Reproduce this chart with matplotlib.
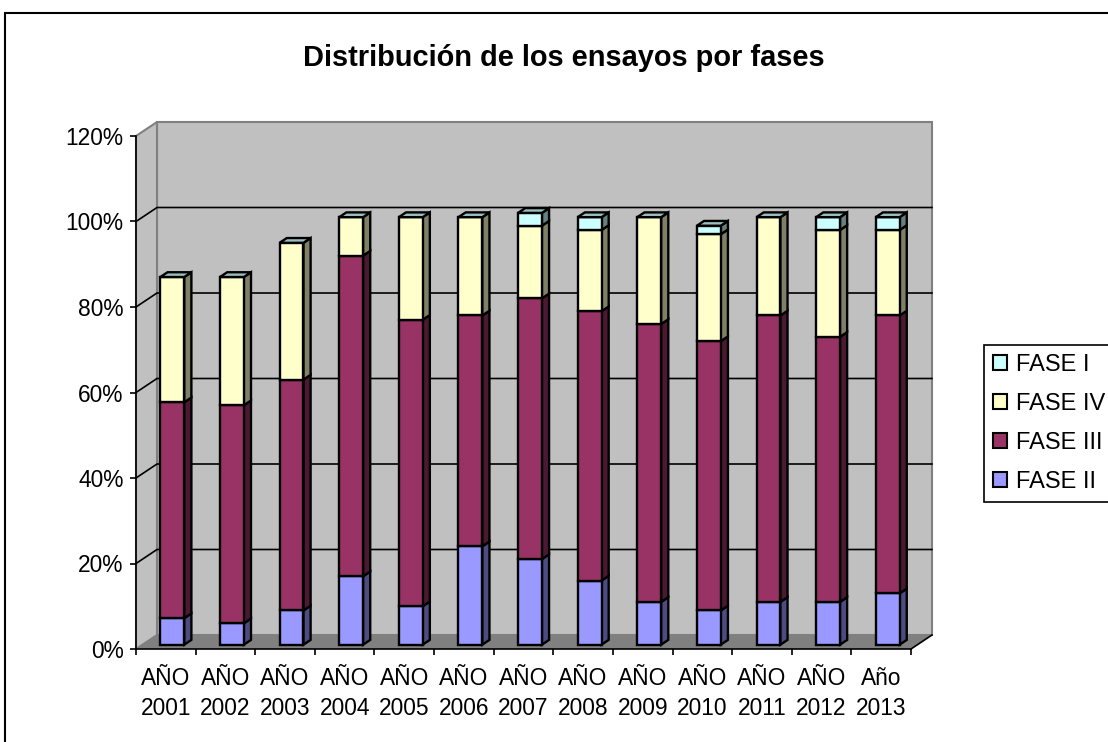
import matplotlib
matplotlib.use("Agg")
import matplotlib.pyplot as plt
from matplotlib.patches import Polygon, Rectangle, Patch

plt.rcParams['font.family'] = ['Liberation Sans', 'DejaVu Sans']

W, H = 1108, 742

years = ["AÑO\n2001", "AÑO\n2002", "AÑO\n2003", "AÑO\n2004", "AÑO\n2005", "AÑO\n2006", "AÑO\n2007",
         "AÑO\n2008", "AÑO\n2009", "AÑO\n2010", "AÑO\n2011", "AÑO\n2012", "Año\n2013"]
fase_2 = [6.2, 5, 8, 16, 9, 23, 20, 15, 10, 8, 10, 10, 12]
fase_3 = [50.5, 51, 54, 75, 67, 54, 61, 63, 65, 63, 67, 62, 65]
fase_4 = [29.3, 30, 32, 9, 24, 23, 17, 19, 25, 25, 23, 25, 20]
fase_1 = [0, 0, 0, 0, 0, 0, 3, 3, 0, 2, 0, 3, 3]
y_ticks = [0, 20, 40, 60, 80, 100, 120]

# series from the bottom up: values, name, face, side
series = [
    (fase_2, "FASE II", "#9999FF", "#4C4C80"),
    (fase_3, "FASE III", "#993366", "#4C1933"),
    (fase_4, "FASE IV", "#FFFFCC", "#808066"),
    (fase_1, "FASE I", "#CCFFFF", "#668080"),
]
TOP_COLOR = "#99BFBF"
EDGE = dict(edgecolor="black", linewidth=1.7, joinstyle="miter")

fig = plt.figure(figsize=(W / 100, H / 100), dpi=100)
fig.patches.append(Rectangle((5 / W, 1 - 13 / H - 800 / H), 1200 / W, 800 / H, transform=fig.transFigure,
                             facecolor="white", edgecolor="black", linewidth=1.5, zorder=-1))

# axes = front plane of the fake 3d box
ax = fig.add_axes([136 / W, 1 - 649 / H, (911 - 136) / W, (649 - 136) / H])
ax.set_xlim(0, 13)
ax.set_ylim(0, 120)
ax.patch.set_visible(False)

# depth of the box in data units
DX = 21 / (775 / 13)
DY = 14 / (513 / 120)


def pt(x, y, d=0.0):
    return (x + d * DX, y + d * DY)


def poly(points, **kw):
    ax.add_patch(Polygon(points, closed=True, clip_on=False, **kw))


# walls and floor
poly([pt(0, 0, 1), pt(13, 0, 1), pt(13, 120, 1), pt(0, 120, 1)], facecolor="#C0C0C0", edgecolor="#808080", linewidth=1.5, zorder=1)
poly([pt(0, 0), pt(0, 0, 1), pt(0, 120, 1), pt(0, 120)], facecolor="#C0C0C0", edgecolor="#808080", linewidth=1.5, zorder=1)
poly([pt(0, 0), pt(13, 0), pt(13, 0, 1), pt(0, 0, 1)], facecolor="#808080", edgecolor="none", zorder=1)
ax.plot(*zip(pt(13, 0), pt(13, 0, 1)), color="black", lw=1.2, clip_on=False, zorder=2)

# gridlines on back and side wall
for v in y_ticks[1:-1]:
    ax.plot(*zip(pt(0, v), pt(0, v, 1), pt(13, v, 1)), color="black", lw=1.2, clip_on=False, zorder=2)

# bars
BAR_W = 0.40
D0, D1 = 0.31, 0.65
for i in range(len(years)):
    cx = i + 0.5
    x0, x1 = cx - BAR_W / 2, cx + BAR_W / 2
    base = 0
    for vals, name, face, side in series:
        v = vals[i]
        if v == 0:
            continue
        top = base + v
        poly([pt(x1, base, D0), pt(x1, base, D1), pt(x1, top, D1), pt(x1, top, D0)], facecolor=side, zorder=3, **EDGE)
        poly([pt(x0, base, D0), pt(x1, base, D0), pt(x1, top, D0), pt(x0, top, D0)], facecolor=face, zorder=4, **EDGE)
        base = top
    poly([pt(x0, base, D0), pt(x1, base, D0), pt(x1, base, D1), pt(x0, base, D1)], facecolor=TOP_COLOR, zorder=4, **EDGE)

# axes
for s in ("top", "right"):
    ax.spines[s].set_visible(False)
for s in ("left", "bottom"):
    ax.spines[s].set_linewidth(1.2)
    ax.spines[s].set_zorder(5)
ax.set_yticks(y_ticks)
ax.set_yticklabels([f"{v}%" for v in y_ticks], fontsize=16.4)
ax.set_xticks(range(14))
ax.set_xticklabels([])
ax.set_xticks([i + 0.5 for i in range(13)], minor=True)
ax.set_xticklabels(years, minor=True, fontsize=16.4, linespacing=1.36)
ax.tick_params(axis="y", length=4.5, width=1.2, pad=4.5)
ax.tick_params(axis="x", which="major", length=4.5, width=1.2)
ax.tick_params(axis="x", which="minor", length=0, pad=13)

fig.text(564 / W, 1 - 58.5 / H, "Distribución de los ensayos por fases", ha="center", va="center",
         fontsize=20.9, fontweight="bold")

handles = [Patch(facecolor=s[2], edgecolor="black", linewidth=1.5, label=s[1]) for s in reversed(series)]
leg = fig.legend(handles=handles, loc="upper left", bbox_to_anchor=(984 / W, 1 - 345 / H), fontsize=17,
                 frameon=True, fancybox=False, edgecolor="black", framealpha=1, borderaxespad=0,
                 handlelength=0.58, handleheight=0.58, handletextpad=0.4, labelspacing=0.72, borderpad=0.38)
leg.get_frame().set_linewidth(1.2)

fig.savefig("out.png", dpi=100)
